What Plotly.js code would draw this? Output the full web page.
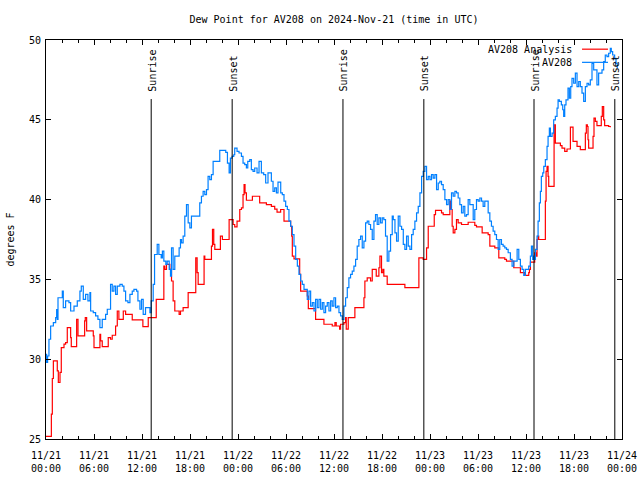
<!DOCTYPE html>
<html>
<head>
<meta charset="utf-8">
<script src="https://cdn.plot.ly/plotly-3.0.1.min.js"></script>
<style>html,body{margin:0;padding:0;background:#fff;}#chart{width:640px;height:480px;}</style>
</head>
<body>
<div id="chart"></div>
<script>
// ---- data (hours since 2024-11-21 00:00 UTC, degrees F) ----
const obsHours = [0.0,0.08,0.2,0.37,0.58,0.92,1.21,1.33,1.41,1.5,2.04,2.16,2.45,2.87,3.08,3.5,3.91,4.24,4.41,4.66,4.95,5.24,5.49,5.58,5.91,6.2,6.49,6.74,7.03,7.45,7.66,8.07,8.28,8.49,8.7,8.91,9.24,9.53,9.74,9.95,10.24,10.49,10.78,10.99,11.32,11.49,11.74,11.94,12.15,12.44,12.99,13.15,13.4,13.57,13.9,14.11,14.4,14.55,14.73,14.98,15.15,15.4,15.56,15.69,15.89,16.1,16.64,16.81,16.94,17.14,17.35,17.56,17.77,17.98,18.18,19.22,19.43,19.64,19.85,20.06,20.26,20.47,20.68,20.89,21.72,22.47,22.68,22.89,23.05,23.26,23.47,23.59,23.88,24.13,24.43,24.63,24.84,25.05,25.22,25.47,25.67,25.88,26.09,26.38,26.63,26.92,27.21,27.46,27.75,28.17,28.38,28.59,28.8,29.0,29.34,29.54,29.75,29.96,30.17,30.37,30.58,30.79,31.0,31.21,31.42,31.62,31.83,32.04,32.25,32.66,32.87,33.08,33.29,33.5,33.7,33.91,34.12,34.33,34.54,34.74,34.95,35.16,35.37,35.58,35.78,35.99,36.2,36.41,36.62,36.82,37.03,37.24,37.45,37.66,37.86,38.07,38.28,38.49,38.7,38.9,39.11,39.32,39.53,39.74,39.95,40.15,40.36,40.57,40.78,40.99,41.19,41.4,41.61,41.82,42.03,42.23,42.44,42.65,42.86,43.07,43.28,43.41,43.62,43.82,44.03,44.24,44.45,44.66,44.86,45.07,45.28,45.49,45.7,45.9,46.11,46.32,46.53,46.74,46.95,47.15,47.36,47.57,47.78,47.99,48.19,48.4,48.61,48.82,49.03,49.23,49.44,49.65,49.86,50.07,50.27,50.48,50.69,50.9,51.11,51.31,51.52,51.73,51.94,52.15,52.35,52.56,52.77,52.98,53.4,53.6,53.81,54.02,54.23,54.44,54.64,54.85,55.27,55.48,55.68,55.89,56.1,56.31,56.52,56.72,56.93,57.14,57.35,57.56,57.77,58.05,58.26,58.47,58.89,59.1,59.3,59.51,59.72,59.93,60.34,60.55,60.68,60.84,60.97,61.09,61.18,61.38,61.51,61.67,61.8,61.92,62.09,62.22,62.42,62.63,62.76,62.92,63.05,63.26,63.46,63.67,63.88,64.01,64.17,64.42,64.59,64.71,64.84,65.0,65.25,65.42,65.59,65.75,65.96,66.17,66.38,66.59,66.79,67.0,67.21,67.42,67.63,67.83,68.04,68.25,68.46,68.87,69.08,69.5,69.71,69.91,70.12,70.33,70.54,70.66,70.83,71.08,71.25,71.41];
const obsDewF = [30.3,29.8,30.2,31.25,32.08,32.29,32.6,33.1,32.5,33.85,34.27,33.23,33.65,33.54,33.02,33.33,33.65,34.27,34.58,33.75,34.06,33.65,34.17,33.02,32.92,32.71,32.5,31.98,32.5,32.81,33.13,34.69,34.27,34.58,34.06,34.58,34.69,34.58,34.27,33.65,33.54,34.06,34.27,34.38,34.27,33.65,33.13,33.75,32.81,33.23,32.92,33.65,34.69,36.56,37.19,36.56,36.35,36.77,36.15,35.94,36.15,35.63,35.21,36.98,35.63,36.46,36.98,37.5,37.29,37.71,38.96,39.69,38.54,38.23,38.96,39.79,40.21,40.52,40.31,40.63,41.46,41.25,41.56,42.4,43.08,42.96,42.29,41.67,42.6,42.71,42.81,43.23,43.02,42.92,42.71,42.29,42.19,41.98,42.4,42.5,41.88,41.77,41.98,41.67,42.4,41.67,41.56,41.04,41.67,41.15,40.52,40.73,40.42,41.1,40.42,40.31,39.9,39.58,39.38,38.65,38.33,37.81,37.08,36.25,35.83,35.31,34.9,34.69,34.38,33.75,34.27,33.33,33.54,33.02,33.75,33.23,33.75,33.13,33.54,32.92,33.33,33.54,33.02,33.65,33.33,33.85,33.23,33.33,32.92,32.71,32.5,33.33,33.85,34.48,35.1,35.31,35.52,35.83,36.25,37.08,37.5,37.71,36.98,37.4,38.54,38.65,38.44,38.13,37.5,38.65,39.06,38.44,38.85,38.54,38.85,38.75,37.71,36.15,36.77,37.81,38.96,38.75,37.92,37.4,38.96,38.33,38.13,37.19,36.88,37.71,37.08,36.88,37.81,38.13,38.65,39.17,39.58,40.42,41.46,41.77,42.08,41.25,41.46,41.25,41.56,41.35,41.56,40.63,41.04,41.15,40.94,40.63,40.0,39.69,40.0,39.38,40.42,40.21,40.52,40.42,40.1,39.69,39.17,39.58,38.96,39.06,40.0,39.69,38.75,39.38,40.0,39.9,40.1,39.9,39.58,39.9,39.17,38.65,38.33,38.02,37.81,37.5,36.88,37.5,37.19,37.08,36.98,36.88,36.67,36.25,35.83,36.15,36.88,36.25,35.83,35.63,35.25,35.63,35.83,36.46,37.08,36.25,36.46,36.25,36.88,37.71,38.65,39.79,40.52,41.46,41.67,42.08,42.5,43.33,43.96,44.48,43.96,44.17,45.0,45.21,45.73,46.25,46.15,45.94,45.63,45.21,45.94,46.25,46.98,46.35,47.08,47.6,47.29,47.92,47.08,47.4,47.08,46.67,46.15,47.08,47.29,47.19,47.5,48.54,48.13,47.19,47.92,48.13,48.65,49.06,48.96,49.17,49.48,49.27,49.06,48.85,48.54,48.23];

const anaHours = [0,0.67,0.79,0.92,1.41,1.54,1.75,1.91,2.25,2.45,2.66,3.08,3.16,3.83,4.0,4.83,4.91,5.08,5.91,6.0,6.74,6.83,7.03,7.78,8.07,8.28,8.7,8.91,9.11,9.66,9.95,10.78,12.11,12.78,13.78,14.73,14.85,15.06,15.48,15.69,15.89,16.1,16.64,16.81,17.14,17.77,18.72,18.89,19.02,19.76,19.85,20.68,20.81,20.97,21.1,21.8,22.05,22.89,23.39,23.59,23.88,24.22,24.43,24.63,24.76,24.88,25.05,25.8,26.71,27.55,28.17,28.59,28.88,29.33,29.75,30.58,30.71,30.79,31.0,31.71,31.83,32.66,32.79,33.7,34.74,35.78,36.12,36.28,36.7,36.82,37.24,37.45,37.53,37.78,38.61,39.74,39.86,40.15,40.57,40.78,41.28,41.61,41.74,41.94,42.11,42.23,42.65,44.86,46.61,47.15,47.57,47.78,48.53,48.69,49.44,49.65,50.48,50.61,50.77,50.9,51.11,51.31,51.52,51.94,52.77,53.6,53.81,54.52,55.27,55.48,56.1,56.6,57.35,57.56,58.47,59.3,59.84,60.34,60.43,60.55,61.09,61.26,61.38,61.51,61.59,62.42,62.51,62.63,62.76,62.84,63.51,63.67,64.3,64.5,64.84,65.13,65.55,65.88,66.38,66.79,67.42,67.54,67.67,67.75,67.83,68.38,68.5,68.67,68.87,69.41,69.54,69.71,69.83,70.33,70.54];
const anaDewF = [25.17,26.56,28.79,29.9,29.27,28.54,29.17,30.73,30.94,31.04,31.98,31.35,30.79,32.5,31.46,32.4,32.6,31.77,31.46,30.73,31.56,31.15,30.79,31.35,31.25,31.5,32.08,33.02,32.5,33.02,32.81,32.46,32.04,32.6,33.75,35.83,35.63,35.94,35.63,34.9,33.65,33.02,32.81,33.02,33.23,34.17,36.35,35.42,34.69,36.46,36.25,37.08,38.13,37.19,36.88,37.71,37.5,38.75,38.44,38.29,38.65,39.38,39.48,40.31,40.94,40.42,39.96,40.21,39.79,39.69,39.58,39.4,39.21,39.38,38.65,38.33,37.71,36.46,36.29,35.31,34.27,33.96,33.17,32.5,32.19,32.08,32.29,32.08,31.88,32.19,32.29,32.6,31.88,32.6,33.23,33.85,34.9,35.1,34.9,35.63,35.21,35.73,36.46,35.42,35.63,35.21,34.69,34.48,36.35,36.25,36.98,38.33,39.06,39.33,39.17,39.06,39.9,39.38,38.33,37.92,38.13,38.75,38.54,38.44,38.58,38.38,38.29,37.92,37.81,37.08,36.98,36.35,36.25,36.15,35.73,35.42,35.25,35.42,35.63,36.08,36.67,36.46,37.5,37.71,37.5,39.9,41.77,42.08,41.46,40.83,44.69,43.54,43.38,43.23,43.02,43.17,44.54,43.65,43.33,43.13,44.17,44.69,44.58,43.75,43.23,43.96,45.1,44.9,44.63,45.21,45.83,45.0,44.63,44.58,44.54];

const sunEventHours = [13.15, 23.27, 37.12, 47.23, 61.0, 71.1];
const sunEventLabels = ["Sunrise", "Sunset", "Sunrise", "Sunset", "Sunrise", "Sunset"];

const tickHours = [0,6,12,18,24,30,36,42,48,54,60,66,72];
const tickLabels = ["11/21<br>00:00","11/21<br>06:00","11/21<br>12:00","11/21<br>18:00","11/22<br>00:00","11/22<br>06:00","11/22<br>12:00","11/22<br>18:00","11/23<br>00:00","11/23<br>06:00","11/23<br>12:00","11/23<br>18:00","11/24<br>00:00"];

const seriesNames = ["AV208 Analysis", "AV208"];

// ---- helpers ----
const base = Date.UTC(2024, 10, 21, 0, 0, 0);
function toDate(h) {
  return new Date(base + Math.round(h * 3600000)).toISOString().replace('T', ' ').slice(0, 19);
}

const FONT = 'DejaVu Sans Mono, Liberation Mono, monospace';
const RED = '#ff0000';
const BLUE = 'rgb(0,128,255)';

const traces = [
  {x: anaHours.map(toDate), y: anaDewF, name: seriesNames[0], type: 'scatter', mode: 'lines',
   line: {color: RED, width: 1.2, shape: 'hv'}, showlegend: false, hoverinfo: 'skip'},
  {x: obsHours.map(toDate), y: obsDewF, name: seriesNames[1], type: 'scatter', mode: 'lines',
   line: {color: BLUE, width: 1.2, shape: 'hv'}, showlegend: false, hoverinfo: 'skip'}
];

const shapes = sunEventHours.map(h => ({
  type: 'line', xref: 'x', yref: 'paper', x0: toDate(h), x1: toDate(h), y0: 0, y1: 0.852,
  line: {color: '#000', width: 1}
}));
const annotations = sunEventHours.map((h, i) => ({
  text: sunEventLabels[i], xref: 'x', yref: 'paper', x: toDate(h), y: 0.866,
  xanchor: 'center', yanchor: 'bottom', textangle: -90, showarrow: false, xshift: 1,
  font: {family: FONT, size: 10, color: '#000'}
}));

// legend (text left, sample line right, like the reference)
const legendRows = [{y: 0.977, color: RED}, {y: 0.944, color: BLUE}];
legendRows.forEach((r, i) => {
  annotations.push({text: seriesNames[i], xref: 'paper', yref: 'paper', x: 0.917, y: r.y,
    xanchor: 'right', yanchor: 'middle', showarrow: false,
    font: {family: FONT, size: 10, color: '#000'}});
  shapes.push({type: 'line', xref: 'paper', yref: 'paper', x0: 0.9306, x1: 0.9757, y0: r.y, y1: r.y,
    line: {color: r.color, width: 1.2}});
});

const layout = {
  width: 640, height: 480,
  margin: {l: 46, r: 18, t: 40, b: 41, pad: 0},
  paper_bgcolor: '#fff', plot_bgcolor: '#fff',
  font: {family: FONT, size: 10, color: '#000'},
  title: {text: 'Dew Point for AV208 on 2024-Nov-21 (time in UTC)', x: 0.5, xref: 'paper',
          y: 0.96, yref: 'container', yanchor: 'middle', font: {family: FONT, size: 10, color: '#000'}},
  xaxis: {
    type: 'date', range: [toDate(0), toDate(72)], showgrid: false, zeroline: false,
    showline: true, linecolor: '#000', linewidth: 1, mirror: 'ticks',
    ticks: 'inside', ticklen: 5, tickcolor: '#000', tickwidth: 1,
    tickmode: 'array', tickvals: tickHours.map(toDate), ticktext: tickLabels,
    ticklabelstandoff: 7,
    tickfont: {family: FONT, size: 10, color: '#000'},
    minor: {ticks: 'inside', ticklen: 3, dtick: 7200000, tick0: toDate(0), tickcolor: '#000', showgrid: false},
    automargin: false, fixedrange: true
  },
  yaxis: {
    range: [25, 50], dtick: 5, tick0: 25, showgrid: false, zeroline: false,
    showline: true, linecolor: '#000', linewidth: 1, mirror: 'ticks',
    ticks: 'inside', ticklen: 5, tickcolor: '#000', tickwidth: 1,
    ticklabelstandoff: 2,
    tickfont: {family: FONT, size: 10, color: '#000'},
    title: {text: 'degrees F', standoff: 12, font: {family: FONT, size: 10, color: '#000'}},
    automargin: false, fixedrange: true
  },
  shapes: shapes,
  annotations: annotations,
  showlegend: false
};

Plotly.newPlot('chart', traces, layout, {staticPlot: true, displayModeBar: false});
</script>
</body>
</html>
